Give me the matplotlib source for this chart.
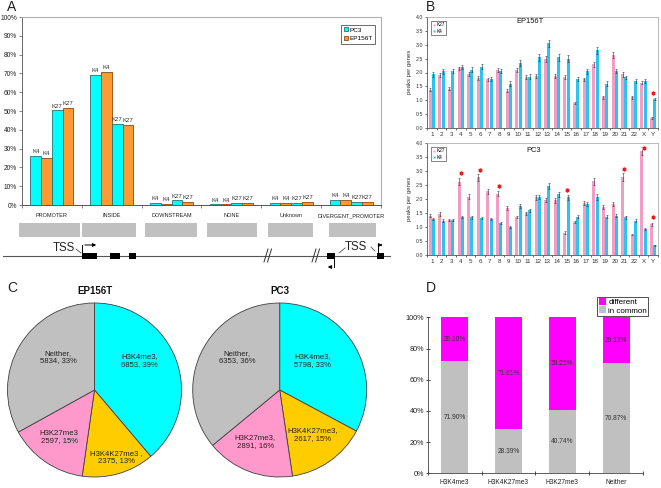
import matplotlib
matplotlib.use('Agg')
import matplotlib.pyplot as plt
import numpy as np
from matplotlib.lines import Line2D
from matplotlib.patches import Rectangle, Patch

plt.rcParams['font.family'] = ['Liberation Sans', 'DejaVu Sans']

W, H = 661, 488

# ---------------- Panel A data ----------------
a_categories = ['PROMOTER', 'INSIDE', 'DOWNSTREAM', 'NONE', 'Unknown', 'DIVERGENT_PROMOTER']
a_pc3_k4 = [26.0, 69.3, 0.9, 0.3, 0.9, 2.7]
a_ep_k4 = [25.0, 70.7, 0.5, 0.3, 0.9, 2.6]
a_pc3_k27 = [50.3, 43.3, 2.4, 0.9, 1.1, 1.8]
a_ep_k27 = [51.8, 42.4, 1.7, 0.9, 1.4, 1.7]
a_yticks = [0, 10, 20, 30, 40, 50, 60, 70, 80, 90, 100]

# ---------------- Panel B data ----------------
chromosomes = [str(i) for i in range(1, 23)] + ['X', 'Y']
ep_k27 = [1.38, 1.92, 1.42, 2.15, 1.95, 1.80, 1.75, 2.10, 1.35, 2.10, 1.85, 1.87,
          2.48, 1.87, 1.83, 0.90, 1.75, 2.30, 1.10, 2.63, 1.93, 1.10, 1.63, 0.36]
ep_k4 = [1.93, 2.05, 2.05, 2.20, 2.10, 2.20, 1.75, 2.05, 1.60, 2.35, 1.85, 2.55,
         3.05, 2.55, 2.50, 1.76, 2.05, 2.80, 1.60, 2.07, 1.82, 1.68, 1.70, 1.04]
ep_k27_err = [0.05, 0.07, 0.05, 0.06, 0.07, 0.06, 0.06, 0.07, 0.05, 0.08, 0.07, 0.08,
              0.10, 0.07, 0.07, 0.05, 0.06, 0.09, 0.05, 0.11, 0.08, 0.05, 0.06, 0.03]
ep_k4_err = [0.08, 0.09, 0.08, 0.08, 0.09, 0.09, 0.07, 0.08, 0.08, 0.10, 0.08, 0.12,
             0.13, 0.12, 0.12, 0.06, 0.09, 0.13, 0.08, 0.07, 0.07, 0.07, 0.07, 0.04]
ep_stars_chr = ['Y']
ep_stars_val = [1.25]

pc3_k27 = [1.40, 1.46, 1.26, 2.62, 2.08, 2.78, 2.28, 2.18, 1.67, 1.36, 1.49, 2.07,
           1.96, 1.95, 0.80, 1.18, 1.86, 2.63, 1.71, 1.83, 2.79, 0.73, 3.70, 1.10]
pc3_k4 = [1.28, 1.22, 1.26, 1.35, 1.35, 1.33, 1.28, 1.14, 1.00, 1.76, 1.59, 2.07,
          2.45, 2.17, 2.07, 1.37, 1.82, 2.08, 1.37, 1.40, 1.35, 1.23, 0.93, 0.35]
pc3_k27_err = [0.06, 0.06, 0.04, 0.12, 0.09, 0.13, 0.09, 0.09, 0.07, 0.05, 0.06, 0.09,
               0.06, 0.08, 0.04, 0.05, 0.07, 0.12, 0.07, 0.08, 0.13, 0.03, 0.14, 0.06]
pc3_k4_err = [0.04, 0.05, 0.04, 0.04, 0.05, 0.04, 0.04, 0.04, 0.04, 0.07, 0.06, 0.08,
              0.11, 0.09, 0.09, 0.05, 0.07, 0.10, 0.05, 0.05, 0.05, 0.05, 0.04, 0.02]
pc3_stars_chr = ['4', '6', '8', '15', '21', 'X', 'Y']
pc3_stars_val = [2.93, 3.05, 2.45, 2.33, 3.08, 3.82, 1.35]
b_yticks = [0.0, 0.5, 1.0, 1.5, 2.0, 2.5, 3.0, 3.5, 4.0]

# ---------------- Panel C data ----------------
pie_classes = ['H3K4me3', 'H3K4K27me3', 'H3K27me3', 'Neither']
ep_counts = [6853, 2375, 2597, 5834]
pc3_counts = [5798, 2617, 2891, 6353]
ep_name_fmt = ['H3K4me3,', 'H3K4K27me3 ,', 'H3K27me3', 'Neither,']
pc3_name_fmt = ['H3K4me3,', 'H3K4K27me3,', 'H3K27me3,', 'Neither,']

# ---------------- Panel D data ----------------
d_categories = ['H3K4me3', 'H3K4K27me3', 'H3K27me3', 'Neither']
d_common = [71.90, 28.39, 40.74, 70.87]
d_different = [28.10, 71.61, 59.26, 29.13]
d_yticks = [0, 20, 40, 60, 80, 100]

# ---------------- colours ----------------
cyanA, cyanA_e = '#00FFFF', '#2A7070'
orangeA, orangeA_e = '#FF9933', '#8A4A10'
pinkB, blueB = '#F39CC6', '#2CC3EE'
pie_colors = ['#00FFFF', '#FFCC00', '#FF99CC', '#C0C0C0']
magenta, grayD = '#FF00FF', '#C0C0C0'

fig = plt.figure(figsize=(W / 100, H / 100), dpi=100)


def px_axes(x0, y0, x1, y1, **kw):
    return fig.add_axes([x0 / W, 1 - y1 / H, (x1 - x0) / W, (y1 - y0) / H], **kw)


# ================= Panel A =================
axA = px_axes(22, 17, 381, 205)
xa = np.arange(len(a_categories))
offs = [-0.27, -0.09, 0.09, 0.27]
seriesA = [(a_pc3_k4, 'K4', cyanA, cyanA_e), (a_ep_k4, 'K4', orangeA, orangeA_e),
           (a_pc3_k27, 'K27', cyanA, cyanA_e), (a_ep_k27, 'K27', orangeA, orangeA_e)]
for (vals, lab, fc, ec), o in zip(seriesA, offs):
    axA.bar(xa + o, vals, 0.18, color=fc, edgecolor=ec, linewidth=0.6)
    for xi, v in zip(xa + o, vals):
        axA.text(xi, v + 1.0, lab, ha='center', va='bottom', fontsize=4.3, color='#333333')
axA.set_xlim(-0.5, len(a_categories) - 0.5)
axA.set_ylim(0, 100)
axA.set_yticks(a_yticks)
axA.set_yticklabels([f'{t}%' for t in a_yticks], fontsize=4.8, color='#222222')
axA.set_xticks(np.arange(len(a_categories) + 1) - 0.5)
axA.set_xticklabels([])
axA.set_xticks(xa, minor=True)
axA.set_xticklabels(a_categories, minor=True, fontsize=4.0, color='#222222')
axA.tick_params(axis='x', which='minor', length=0, pad=6)
axA.tick_params(axis='x', which='major', length=2, width=0.5, color='#555555')
axA.tick_params(axis='y', length=2, width=0.5, pad=1.5, color='#555555')
for s in ['top', 'right']:
    axA.spines[s].set_color('#B0B0B0')
    axA.spines[s].set_linewidth(0.8)
axA.spines['left'].set_color('#666666')
axA.spines['bottom'].set_color('#555555')
for s in ['left', 'bottom']:
    axA.spines[s].set_linewidth(0.7)
hA = [Line2D([], [], marker='s', ls='', mfc=cyanA, mec=cyanA_e, ms=2.6, mew=0.6),
      Line2D([], [], marker='s', ls='', mfc=orangeA, mec=orangeA_e, ms=2.6, mew=0.6)]
legA = axA.legend(hA, ['PC3', 'EP156T'], loc='upper right', bbox_to_anchor=(0.992, 0.975),
                  fontsize=4.6, handletextpad=0.1, handlelength=0.8, borderpad=0.35,
                  labelspacing=0.5, fancybox=False, framealpha=1)
legA.get_frame().set_edgecolor('#555555')
legA.get_frame().set_linewidth(0.6)


# ================= Panel B =================
def panel_b(ax, k27, k4, e27, e4, star_chr, star_val, title, tpos):
    xb = np.arange(len(chromosomes))
    ek = dict(elinewidth=0.4, capsize=1.0, capthick=0.4, ecolor='#333333')
    ax.bar(xb - 0.17, k27, 0.32, color=pinkB, yerr=e27, error_kw=ek, label='K27')
    ax.bar(xb + 0.17, k4, 0.32, color=blueB, yerr=e4, error_kw=ek, label='K4')
    sx = [chromosomes.index(c) for c in star_chr]
    ax.plot(sx, star_val, 'o', ms=3.6, mfc='#FFB3B3', mec='none', zorder=5)
    ax.plot(sx, star_val, marker=(6, 2, 0), ls='', ms=2.6, mec='#E02020', mew=0.6, zorder=6)
    ax.set_xlim(-0.5, len(chromosomes) - 0.5)
    ax.set_ylim(0, 4)
    ax.set_yticks(b_yticks)
    ax.set_yticklabels([f'{t:.1f}' for t in b_yticks], fontsize=3.8, color='#333333')
    ax.set_xticks(np.arange(len(chromosomes) + 1) - 0.5)
    ax.set_xticklabels([])
    ax.set_xticks(xb, minor=True)
    ax.set_xticklabels(chromosomes, minor=True, fontsize=4.5, color='#333333')
    ax.tick_params(axis='x', which='minor', length=0, pad=3)
    ax.tick_params(axis='x', which='major', length=1.5, width=0.4)
    ax.tick_params(axis='y', length=1.5, width=0.4, pad=1.5)
    for s in ['top', 'right']:
        ax.spines[s].set_color('#B0B0B0')
        ax.spines[s].set_linewidth(0.6)
    for s in ['left', 'bottom']:
        ax.spines[s].set_color('#555555')
        ax.spines[s].set_linewidth(0.6)
    ax.text(tpos[0], tpos[1], title, transform=ax.transAxes, fontsize=5.4,
            ha='center', va='center', color='#111111')
    hB = [Line2D([], [], marker='s', ls='', mfc=pinkB, mec='none', ms=1.8),
          Line2D([], [], marker='s', ls='', mfc=blueB, mec='none', ms=1.8)]
    lg = ax.legend(hB, ['K27', 'K4'], loc='upper left', bbox_to_anchor=(0.005, 0.985),
                   fontsize=3.4, handletextpad=0.1, handlelength=0.8, borderpad=0.3,
                   labelspacing=0.3, fancybox=False, framealpha=1)
    lg.get_frame().set_edgecolor('#555555')
    lg.get_frame().set_linewidth(0.5)


axB1 = px_axes(427, 17, 658, 128)
panel_b(axB1, ep_k27, ep_k4, ep_k27_err, ep_k4_err, ep_stars_chr, ep_stars_val,
        'EP156T', (0.446, 0.955))
axB2 = px_axes(427, 143, 658, 255)
panel_b(axB2, pc3_k27, pc3_k4, pc3_k27_err, pc3_k4_err, pc3_stars_chr, pc3_stars_val,
        'PC3', (0.46, 0.93))
for yc in [72, 199]:
    fig.text(410 / W, 1 - yc / H, 'peaks per genes', rotation=90, fontsize=4.3,
             ha='center', va='center', color='#333333')


# ================= Panel C =================
def pie_panel(cx, counts, names, label_pos, title):
    R = 87
    ax = px_axes(cx - R, 390 - R, cx + R, 390 + R)
    ax.pie(counts, colors=pie_colors, startangle=90, counterclock=False, radius=1,
           wedgeprops=dict(edgecolor='#404040', linewidth=0.6))
    ax.set_xlim(-1, 1)
    ax.set_ylim(-1, 1)
    ax.set_aspect('equal')
    tot = sum(counts)
    for n, c, (lx, ly) in zip(names, counts, label_pos):
        ax.text(lx, ly, f'{n}\n{c}, {round(100 * c / tot)}%', ha='center', va='center',
                fontsize=5.6, color='#222222', linespacing=1.15)
    fig.text(cx / W, 1 - 291 / H, title, ha='center', va='center', fontsize=7,
             fontweight='bold', color='#111111')


pie_panel(94.5, ep_counts, ep_name_fmt,
          [(0.515, 0.34), (0.255, -0.77), (-0.405, -0.54), (-0.416, 0.38)], 'EP156T')
pie_panel(279.7, pc3_counts, pc3_name_fmt,
          [(0.38, 0.34), (0.38, -0.51), (-0.28, -0.59), (-0.49, 0.38)], 'PC3')

# ================= Panel D =================
axD = px_axes(427.7, 317.3, 643, 473.3)
xd = np.arange(len(d_categories))
axD.bar(xd, d_common, 0.5, color=grayD, label='in common')
axD.bar(xd, d_different, 0.5, bottom=d_common, color=magenta, label='different')
for xi, c, d in zip(xd, d_common, d_different):
    axD.text(xi, c / 2, f'{c:.2f}%', ha='center', va='center', fontsize=4.8, color='#333333')
    axD.text(xi, c + d / 2, f'{d:.2f}%', ha='center', va='center', fontsize=4.8, color='#333333')
axD.set_xlim(-0.5, len(d_categories) - 0.5)
axD.set_ylim(0, 100)
axD.set_yticks(d_yticks)
axD.set_yticklabels([f'{t}%' for t in d_yticks], fontsize=5.2, color='#222222')
axD.set_xticks(np.arange(len(d_categories) + 1) - 0.5)
axD.set_xticklabels([])
axD.set_xticks(xd, minor=True)
axD.set_xticklabels(d_categories, minor=True, fontsize=4.8, color='#222222')
axD.tick_params(axis='x', which='minor', length=0, pad=4)
axD.tick_params(axis='x', which='major', length=2.5, width=0.5, direction='inout')
axD.tick_params(axis='y', length=2.5, width=0.5, direction='inout', pad=1.5)
for s in ['top', 'right']:
    axD.spines[s].set_visible(False)
for s in ['left', 'bottom']:
    axD.spines[s].set_color('#444444')
    axD.spines[s].set_linewidth(0.6)
hD = [Patch(facecolor=magenta), Patch(facecolor=grayD)]
legD = axD.legend(hD, ['different', 'in common'], loc='upper right',
                  bbox_to_anchor=(1.024, 1.132), fontsize=5.8, handlelength=0.9,
                  handleheight=0.9, handletextpad=0.3, borderpad=0.15, labelspacing=0.05,
                  fancybox=False, framealpha=1, borderaxespad=0)
legD.get_frame().set_edgecolor('#333333')
legD.get_frame().set_linewidth(0.6)

# ================= overlay: letters + gene schematic =================
ov = fig.add_axes([0, 0, 1, 1], zorder=10)
ov.set_xlim(0, W)
ov.set_ylim(H, 0)
ov.axis('off')
ov.patch.set_alpha(0)
for letter, (lx, ly) in zip('ABCD', [(7, 7), (426, 7), (7, 288), (426, 288)]):
    ov.text(lx, ly, letter, fontsize=10, ha='left', va='center', color='#222222')

region_spans = [(19, 80), (82, 136), (145, 197), (207, 257), (268, 313), (329, 376)]
for x0, x1 in region_spans:
    ov.add_patch(Rectangle((x0, 223), x1 - x0, 14, facecolor='#C0C0C0', edgecolor='none'))
ov.plot([3, 390], [256, 256], color='#555555', lw=0.8)
for x0, x1 in [(82, 97), (110, 120), (129, 136), (327, 335), (377, 384)]:
    ov.add_patch(Rectangle((x0, 253), x1 - x0, 6, facecolor='black', edgecolor='none', zorder=3))
# TSS arrows
ov.plot([82, 82], [253, 245], color='black', lw=0.7)
ov.annotate('', xy=(99, 245), xytext=(82, 245),
            arrowprops=dict(arrowstyle='-|>', lw=0.7, color='black', mutation_scale=5))
ov.plot([378, 378], [253, 245], color='black', lw=0.7)
ov.annotate('', xy=(385, 245), xytext=(378, 245),
            arrowprops=dict(arrowstyle='-|>', lw=0.7, color='black', mutation_scale=5))
ov.plot([334, 334], [259, 267], color='black', lw=0.7)
ov.annotate('', xy=(325, 267), xytext=(334, 267),
            arrowprops=dict(arrowstyle='-|>', lw=0.7, color='black', mutation_scale=5))
ov.text(64, 248, 'TSS', fontsize=8.3, ha='center', va='center', color='#222222')
ov.plot([76, 81], [249, 253], color='#333333', lw=0.5)
ov.text(356, 247.5, 'TSS', fontsize=8.3, ha='center', va='center', color='#222222')
ov.plot([339, 345], [253, 248], color='#333333', lw=0.5)
ov.plot([371, 375], [247, 251], color='#333333', lw=0.5)
for bx in [264, 312]:
    for dx in [0, 3.5]:
        ov.plot([bx + dx, bx + dx + 4], [262, 249], color='#333333', lw=0.7)

fig.savefig('out.png', dpi=100)
